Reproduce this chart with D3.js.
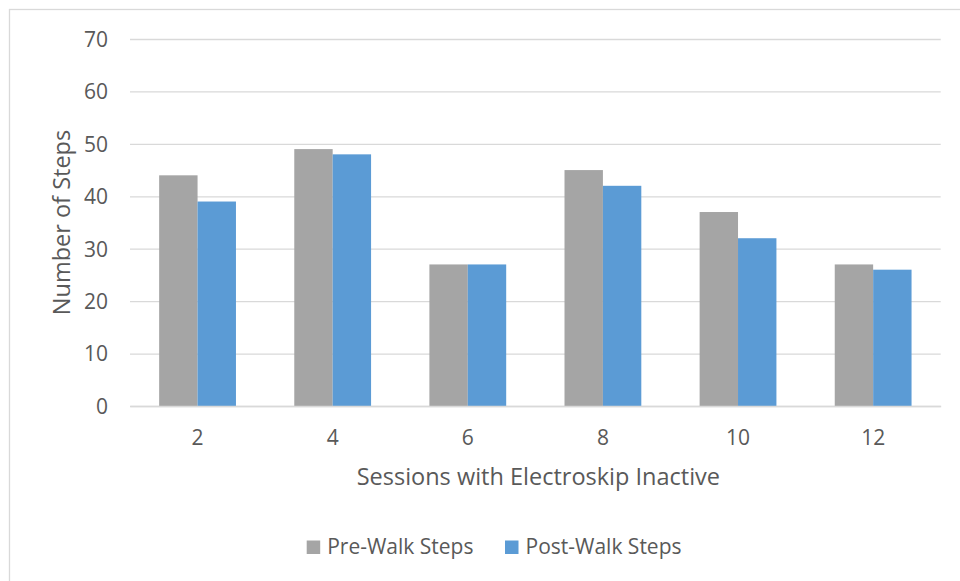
<!DOCTYPE html>
<html><head><meta charset="utf-8">
<script src="https://cdn.jsdelivr.net/npm/d3@7"></script>
<style>body{margin:0;background:#fff}svg{display:block}text{font-family:"Open Sans",sans-serif;fill:#595959}</style>
</head><body><svg id="c" width="960" height="581"></svg>
<script>
const sessions = ["2","4","6","8","10","12"];
const seriesNames = ["Pre-Walk Steps","Post-Walk Steps"];
const preWalk = [44,49,27,45,37,27];
const postWalk = [39,48,27,42,32,26];
const yTicks = [0,10,20,30,40,50,60,70];
const colors = ["#A5A5A5","#5B9BD5"];

const svg = d3.select("#c");
svg.append("rect").attr("x",9.5).attr("y",9.5).attr("width",1200).attr("height",1200)
  .attr("fill","#fff").attr("stroke","#D9D9D9").attr("stroke-width",1.3);

const L=130, R=940.7, T=39, B=406;
const x = d3.scaleBand().domain(sessions).range([L,R]).paddingInner(0.4316).paddingOuter(0.2158);
const xs = d3.scaleBand().domain(seriesNames).range([0,x.bandwidth()]);
const y = d3.scaleLinear().domain([0,70]).range([B,T]);

const gy = svg.append("g").attr("transform",`translate(${L},0)`)
  .call(d3.axisLeft(y).tickValues(yTicks).tickSize(-(R-L)).tickPadding(22));
gy.select(".domain").remove();
gy.selectAll(".tick line").attr("stroke","#D9D9D9").attr("stroke-width",1.3);
gy.selectAll(".tick text").attr("font-size","21px").attr("fill","#595959").attr("font-family","'Open Sans',sans-serif").attr("dy","0.35em");

const data = sessions.map((s,i)=>({s, vals:[preWalk[i],postWalk[i]]}));
const grp = svg.append("g").selectAll("g").data(data).join("g")
  .attr("transform",d=>`translate(${x(d.s)},0)`);
grp.selectAll("rect").data(d=>d.vals.map((v,j)=>({v,j}))).join("rect")
  .attr("x",d=>xs(seriesNames[d.j])).attr("width",xs.bandwidth())
  .attr("y",d=>y(d.v)).attr("height",d=>B-y(d.v)).attr("fill",d=>colors[d.j]);

const gx = svg.append("g").attr("transform",`translate(0,${B})`)
  .call(d3.axisBottom(x).tickSize(0).tickPadding(0));
gx.select(".domain").attr("stroke","#D9D9D9").attr("stroke-width",1.3);
gx.selectAll(".tick text").attr("font-size","21px").attr("fill","#595959").attr("font-family","'Open Sans',sans-serif").attr("dy",null).attr("y",39);

svg.append("text").attr("x",(L+R)/2+3).attr("y",485).attr("text-anchor","middle")
  .attr("font-size","23.5px").text("Sessions with Electroskip Inactive");
svg.append("text").attr("transform",`translate(70,${(T+B)/2}) rotate(-90)`).attr("text-anchor","middle")
  .attr("font-size","23.5px").text("Number of Steps");

const lg = svg.append("g");
const legX = [306.7, 505];
seriesNames.forEach((n,i)=>{
  lg.append("rect").attr("x",legX[i]).attr("y",540.5).attr("width",13.5).attr("height",13.5).attr("fill",colors[i]);
  lg.append("text").attr("x",legX[i]+20.5).attr("y",553.5).attr("font-size","21px").text(n);
});
</script></body></html>
